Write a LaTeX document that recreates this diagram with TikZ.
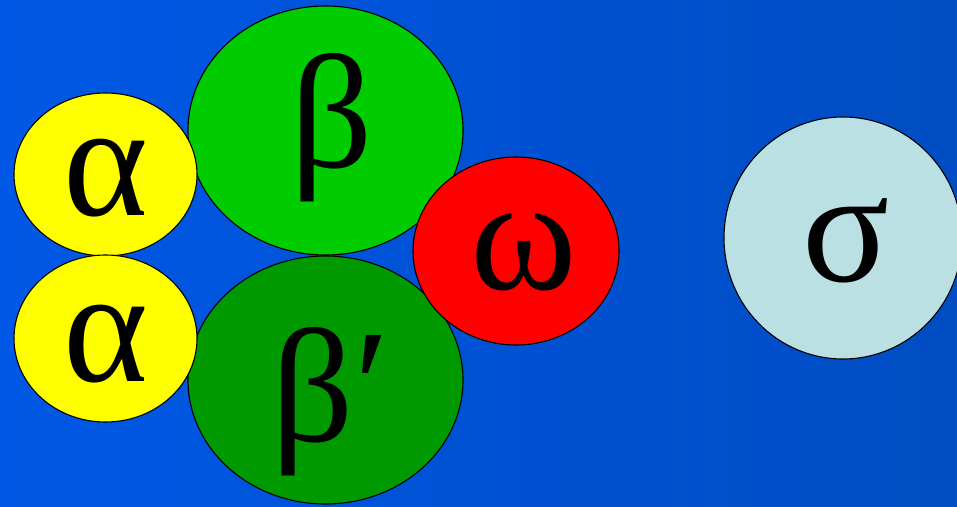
\documentclass[tikz,border=0pt]{standalone}
\usepackage{fontspec}
\setmainfont{Liberation Serif}
\usepackage{xcolor}
\definecolor{bgLeft}{RGB}{0,88,230}
\definecolor{bgRight}{RGB}{0,76,194}
\definecolor{alphaYellow}{RGB}{255,255,0}
\definecolor{betaGreen}{RGB}{0,204,0}
\definecolor{betaPrGreen}{RGB}{0,153,0}
\definecolor{omegaRed}{RGB}{255,0,0}
\definecolor{sigmaBlue}{RGB}{187,224,227}
\usepackage{tikz}
\usetikzlibrary{shapes.geometric}

\tikzset{
  subunit/.style={ellipse, draw=black, line width=1.1pt, inner sep=0pt,
    text depth=0pt, font=\fontsize{162}{162}\selectfont},
}

\begin{document}
\begin{tikzpicture}[x=1pt, y=1pt]
  \useasboundingbox (0,0) rectangle (957,506);
  % ---- background ----
  \shade[left color=bgLeft, right color=bgRight] (0,0) rectangle (957,506);
  % ---- beta and beta' (bottom layer) ----
  \node[subunit, fill=betaGreen, minimum width=275, minimum height=249,
    text height=74pt] (beta) at (325.5,375.5) {\kern12pt β};
  \node[subunit, fill=betaPrGreen, minimum width=275, minimum height=248,
    text height=122pt] (betaPr) at (325.5,126) {\kern10pt β′};
  % ---- omega ----
  \node[subunit, fill=omegaRed, minimum width=206, minimum height=188,
    text height=78pt] (omega) at (516,255) {\kern16pt ω};
  % ---- the two alphas ----
  \node[subunit, fill=alphaYellow, minimum width=183, minimum height=163,
    text height=82pt] (alphaOne) at (105.5,331.5) {α};
  \node[subunit, fill=alphaYellow, minimum width=183, minimum height=167,
    text height=85pt] (alphaTwo) at (105.5,167.5) {α};
  % ---- sigma, apart on the right ----
  \node[subunit, fill=sigmaBlue, minimum width=238, minimum height=242,
    text height=88pt] (sigma) at (843,268) {\kern6pt σ};
\end{tikzpicture}
\end{document}
